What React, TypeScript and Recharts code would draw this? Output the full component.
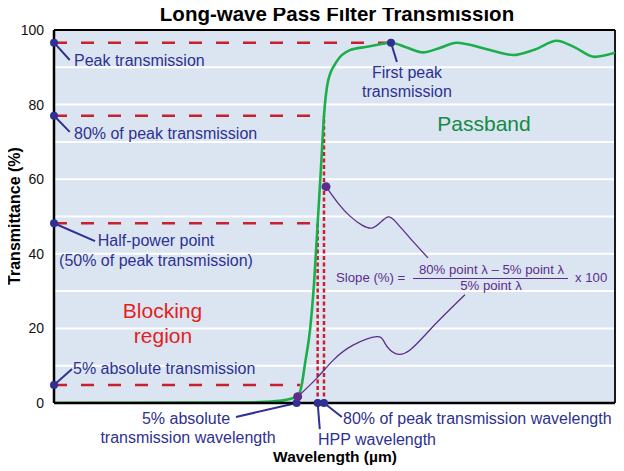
import React from "react";
import {
  ComposedChart,
  Line,
  XAxis,
  YAxis,
  CartesianGrid,
  ReferenceLine,
  ReferenceDot,
} from "recharts";

// Transmission curve (wavelength in arbitrary grid units, transmittance %)
const waveX = [0, 2.51, 3.01, 3.27, 3.39, 3.48, 3.532, 3.579, 3.651, 3.708, 3.76, 3.807, 3.85, 3.91, 4.03, 4.22, 4.46, 4.65, 4.806, 5.03, 5.26, 5.5, 5.74, 6.146, 6.545, 6.86, 7.17, 7.42, 7.71, 8.0];
const transY = [0, 0.1, 0.3, 0.7, 1.2, 1.8, 4.8, 10.5, 19.6, 32, 48.2, 63, 77, 86.5, 91.5, 94.6, 95.5, 96.2, 96.6, 95.3, 94.0, 95.2, 96.6, 95.0, 93.3, 94.8, 97.1, 95.4, 92.8, 93.9];

// Key levels
const peakT = 96.6;
const eightyT = 77;
const halfT = 48.2;
const fiveT = 4.8;
const peakLambda = 4.806;
const fiveLambda = 3.46;
const fiveCurveLambda = 3.51;
const hppLambda = 3.76;
const eightyLambda = 3.85;

// Purple slope connector curves
const upperX = [3.879, 4.05, 4.221, 4.392, 4.535, 4.649, 4.763, 4.877, 5.077, 5.333];
const upperY = [58.0, 53.6, 50.1, 47.7, 46.9, 48.3, 49.9, 48.5, 44.2, 38.9];
const lowerX = [3.475, 3.745, 3.983, 4.265, 4.602, 4.72, 4.863, 5.077, 5.405, 5.86];
const lowerY = [1.7, 6.6, 11.5, 15.5, 17.8, 16.0, 13.3, 14.2, 20.5, 29.0];

// Blue leader lines: [fromX, fromY, toX, toY]
const leaders = [
  [0, peakT, 0.224, 91.96],
  [0, eightyT, 0.224, 72.7],
  [0, halfT, 0.585, 43.4],
  [0, fiveT, 0.257, 9.1],
  [peakLambda, peakT, 4.89, 91.4],
  [fiveLambda, 0, 2.595, -3.75],
  [hppLambda, 0, 3.79, -7.0],
  [eightyLambda, 0, 4.105, -3.75],
];

const yTicks = [0, 10, 20, 30, 40, 50, 60, 70, 80, 90, 100];
const xTicks = [0, 1, 2, 3, 4, 5, 6, 7, 8];

const transmission = waveX.map((x, i) => ({ x, y: transY[i] }));
const upper = upperX.map((x, i) => ({ x, y: upperY[i] }));
const lower = lowerX.map((x, i) => ({ x, y: lowerY[i] }));

const FONT = "'Liberation Sans', Arial, Helvetica, sans-serif";
const RED = "#c8202f";
const BLUE = "#2e3192";
const PURPLE = "#5e2d8c";
const GREEN = "#1cae4a";

export default function App() {
  return (
    <div style={{ position: "relative", width: 616, height: 463, fontFamily: FONT }}>
      <ComposedChart
        width={616}
        height={463}
        margin={{ top: 22, right: 9, bottom: 48, left: 0 }}
      >
        <CartesianGrid
          fill="#dbe5f1"
          fillOpacity={1}
          stroke="#ffffff"
          strokeWidth={2}
        />
        <XAxis
          type="number"
          dataKey="x"
          domain={[0, 8]}
          ticks={xTicks}
          tick={false}
          tickLine={false}
          axisLine={{ stroke: "#000", strokeWidth: 2.5 }}
          height={20}
          allowDataOverflow
        />
        <YAxis
          type="number"
          dataKey="y"
          domain={[0, 100]}
          ticks={yTicks}
          tickFormatter={(v: number) => (v % 20 === 0 ? String(v) : "")}
          tickLine={false}
          tickMargin={4}
          width={46}
          axisLine={{ stroke: "#000", strokeWidth: 2.5 }}
          tick={{ fill: "#111", fontSize: 14, fontFamily: FONT }}
          allowDataOverflow
        />
        <ReferenceLine y={100} stroke="#000" strokeWidth={1.8} />
        <ReferenceLine x={8} stroke="#000" strokeWidth={1.8} />

        {/* dashed horizontal levels */}
        <ReferenceLine segment={[{ x: 0, y: peakT }, { x: peakLambda, y: peakT }]} stroke={RED} strokeWidth={2.5} strokeDasharray="13 14" />
        <ReferenceLine segment={[{ x: 0, y: eightyT }, { x: eightyLambda, y: eightyT }]} stroke={RED} strokeWidth={2.5} strokeDasharray="13 14" />
        <ReferenceLine segment={[{ x: 0, y: halfT }, { x: hppLambda, y: halfT }]} stroke={RED} strokeWidth={2.5} strokeDasharray="13 14" />
        <ReferenceLine segment={[{ x: 0, y: fiveT }, { x: fiveCurveLambda, y: fiveT }]} stroke={RED} strokeWidth={2.5} strokeDasharray="13 14" />
        {/* dotted verticals */}
        <ReferenceLine segment={[{ x: hppLambda, y: 0 }, { x: hppLambda, y: halfT }]} stroke={RED} strokeWidth={2.5} strokeDasharray="4 2.5" />
        <ReferenceLine segment={[{ x: eightyLambda, y: 0 }, { x: eightyLambda, y: eightyT }]} stroke={RED} strokeWidth={2.5} strokeDasharray="4 2.5" />

        {leaders.map((l, i) => (
          <ReferenceLine
            key={"ld" + i}
            segment={[{ x: l[0], y: l[1] }, { x: l[2], y: l[3] }]}
            stroke={BLUE}
            strokeWidth={2}
            ifOverflow="visible"
          />
        ))}

        <Line data={transmission} dataKey="y" type="monotone" stroke={GREEN} strokeWidth={2.6} dot={false} isAnimationActive={false} />
        <Line data={upper} dataKey="y" type="natural" stroke={PURPLE} strokeWidth={1.3} dot={false} isAnimationActive={false} />
        <Line data={lower} dataKey="y" type="natural" stroke={PURPLE} strokeWidth={1.3} dot={false} isAnimationActive={false} />

        <ReferenceDot x={0} y={peakT} r={4} fill={BLUE} stroke="none" ifOverflow="visible" />
        <ReferenceDot x={0} y={eightyT} r={4} fill={BLUE} stroke="none" ifOverflow="visible" />
        <ReferenceDot x={0} y={halfT} r={4} fill={BLUE} stroke="none" ifOverflow="visible" />
        <ReferenceDot x={0} y={fiveT} r={4} fill={BLUE} stroke="none" ifOverflow="visible" />
        <ReferenceDot x={peakLambda} y={peakT} r={4} fill={BLUE} stroke="none" ifOverflow="visible" />
        <ReferenceDot x={fiveLambda} y={0} r={4} fill={BLUE} stroke="none" ifOverflow="visible" />
        <ReferenceDot x={hppLambda} y={0} r={4} fill={BLUE} stroke="none" ifOverflow="visible" />
        <ReferenceDot x={eightyLambda} y={0} r={4} fill={BLUE} stroke="none" ifOverflow="visible" />
        <ReferenceDot x={upperX[0]} y={upperY[0]} r={4.5} fill={PURPLE} stroke="none" ifOverflow="visible" />
        <ReferenceDot x={lowerX[0]} y={lowerY[0]} r={4.5} fill={PURPLE} stroke="none" ifOverflow="visible" />
      </ComposedChart>

      <svg
        width={624}
        height={471}
        style={{ position: "absolute", left: -8, top: -8, pointerEvents: "none" }}
        fontFamily={FONT}
      >
        <text x={337} y={21} textAnchor="middle" fontSize={20.5} fontWeight="bold" fill="#000">
          Long-wave Pass Filter Transmission
        </text>
        <text
          x={0}
          y={0}
          transform="translate(20,216) rotate(-90)"
          textAnchor="middle"
          fontSize={16}
          fontWeight="bold"
          fill="#000"
        >
          Transmittance (%)
        </text>
        <text x={335} y={462} textAnchor="middle" fontSize={15.5} fontWeight="bold" fill="#000">
          Wavelength (µm)
        </text>

        <g fontSize={16} fill={BLUE}>
          <text x={74} y={65.5}>Peak transmission</text>
          <text x={74} y={139}>80% of peak transmission</text>
          <text x={156} y={245.5} textAnchor="middle">Half-power point</text>
          <text x={156} y={265.5} textAnchor="middle">(50% of peak transmission)</text>
          <text x={73} y={374}>5% absolute transmission</text>
          <text x={407} y={78} textAnchor="middle">First peak</text>
          <text x={407} y={97} textAnchor="middle">transmission</text>
          <text x={186} y={423.5} textAnchor="middle">5% absolute</text>
          <text x={188} y={443} textAnchor="middle">transmission wavelength</text>
          <text x={318} y={444.5}>HPP wavelength</text>
          <text x={343} y={423.5}>80% of peak transmission wavelength</text>
        </g>

        <g fontSize={21} fill="#e31e24" textAnchor="middle">
          <text x={162.5} y={317.5}>Blocking</text>
          <text x={163} y={342.5}>region</text>
        </g>
        <text x={484} y={130.5} fontSize={21} fill="#138a45" textAnchor="middle">
          Passband
        </text>

        <g fontSize={13.2} fill={PURPLE}>
          <text x={336} y={281.5}>Slope (%) =</text>
          <text x={491.5} y={273.5} textAnchor="middle">80% point λ – 5% point λ</text>
          <line x1={413} y1={278.5} x2={568} y2={278.5} stroke={PURPLE} strokeWidth={1} />
          <text x={491} y={289.5} textAnchor="middle">5% point λ</text>
          <text x={575} y={281.5}>x 100</text>
        </g>
      </svg>
    </div>
  );
}
